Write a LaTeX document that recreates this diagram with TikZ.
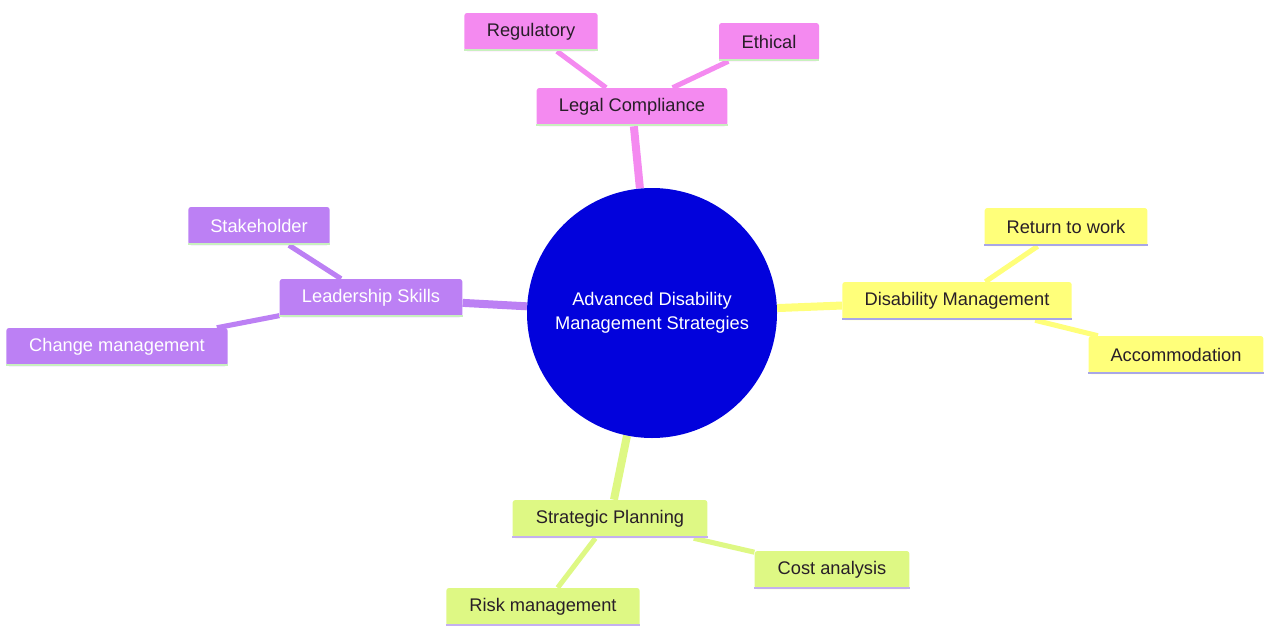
\documentclass[tikz,border=0pt]{standalone}
\usepackage{fontspec}
\setmainfont{Liberation Sans}
\usetikzlibrary{backgrounds}
\definecolor{cblue}{RGB}{2,2,220}
\definecolor{cpink}{RGB}{244,138,240}
\definecolor{cpurple}{RGB}{188,128,244}
\definecolor{cyellow}{RGB}{255,255,122}
\definecolor{cgreen}{RGB}{222,248,132}
\definecolor{lgreen}{RGB}{200,240,190}
\definecolor{lav}{RGB}{168,166,232}
\definecolor{lav2}{RGB}{196,176,240}
\definecolor{dtext}{RGB}{40,30,40}
\begin{document}
\begin{tikzpicture}[x=0.75pt,y=-0.75pt,
  box/.style={rounded corners=2pt, minimum height=28.5pt, inner sep=0pt,
    font=\fontsize{13.7}{15}\selectfont},
  pinkbox/.style={box, fill=cpink, text=dtext},
  purplebox/.style={box, fill=cpurple, text=white},
  yellowbox/.style={box, fill=cyellow, text=dtext},
  greenbox/.style={box, fill=cgreen, text=dtext},
  mainedge/.style={line width=6pt},
  subedge/.style={line width=3.8pt}]
\useasboundingbox (0,0) rectangle (1264,625);

\node[circle, fill=cblue, text=white, minimum size=187.5pt, inner sep=0pt, align=center,
  font=\fontsize{13.7}{18}\selectfont] (root) at (652,313)
  {Advanced Disability\\Management Strategies};

\node[pinkbox, minimum width=143pt] (legal) at (632,107) {Legal Compliance};
\node[pinkbox, minimum width=100pt] (reg) at (531,32) {Regulatory};
\node[pinkbox, minimum width=75pt] (eth) at (769,42) {Ethical};

\node[purplebox, minimum width=137pt] (lead) at (371,298) {Leadership Skills};
\node[purplebox, minimum width=106pt] (stake) at (259,226) {Stakeholder};
\node[purplebox, minimum width=166pt] (change) at (117,347) {Change management};

\node[yellowbox, minimum width=172pt] (dis) at (957,301) {Disability Management};
\node[yellowbox, minimum width=122pt] (ret) at (1066,227) {Return to work};
\node[yellowbox, minimum width=131pt] (acc) at (1176,355) {Accommodation};

\node[greenbox, minimum width=146pt] (strat) at (610,519) {Strategic Planning};
\node[greenbox, minimum width=116pt] (cost) at (832,570) {Cost analysis};
\node[greenbox, minimum width=145pt] (risk) at (543,607) {Risk management};

\foreach \n/\c in {legal/lgreen,reg/lgreen,eth/lgreen,lead/lgreen,stake/lgreen,change/lgreen,
  dis/lav,ret/lav,acc/lav,strat/lav2,cost/lav2,risk/lav2}{
  \draw[\c, line width=2pt] ([yshift=1pt]\n.south west) -- ([yshift=1pt]\n.south east);
}

\begin{scope}[on background layer]
  \draw[mainedge, cpink] (root) -- (legal);
  \draw[subedge, cpink] (legal) -- (reg);
  \draw[subedge, cpink] (legal) -- (eth);
  \draw[mainedge, cpurple] (root) -- (lead);
  \draw[subedge, cpurple] (lead) -- (stake);
  \draw[subedge, cpurple] (lead) -- (change);
  \draw[mainedge, cyellow] (root) -- (dis);
  \draw[subedge, cyellow] (dis) -- (ret);
  \draw[subedge, cyellow] (dis) -- (acc);
  \draw[mainedge, cgreen] (root) -- (strat);
  \draw[subedge, cgreen] (strat) -- (cost);
  \draw[subedge, cgreen] (strat) -- (risk);
\end{scope}
\end{tikzpicture}
\end{document}
